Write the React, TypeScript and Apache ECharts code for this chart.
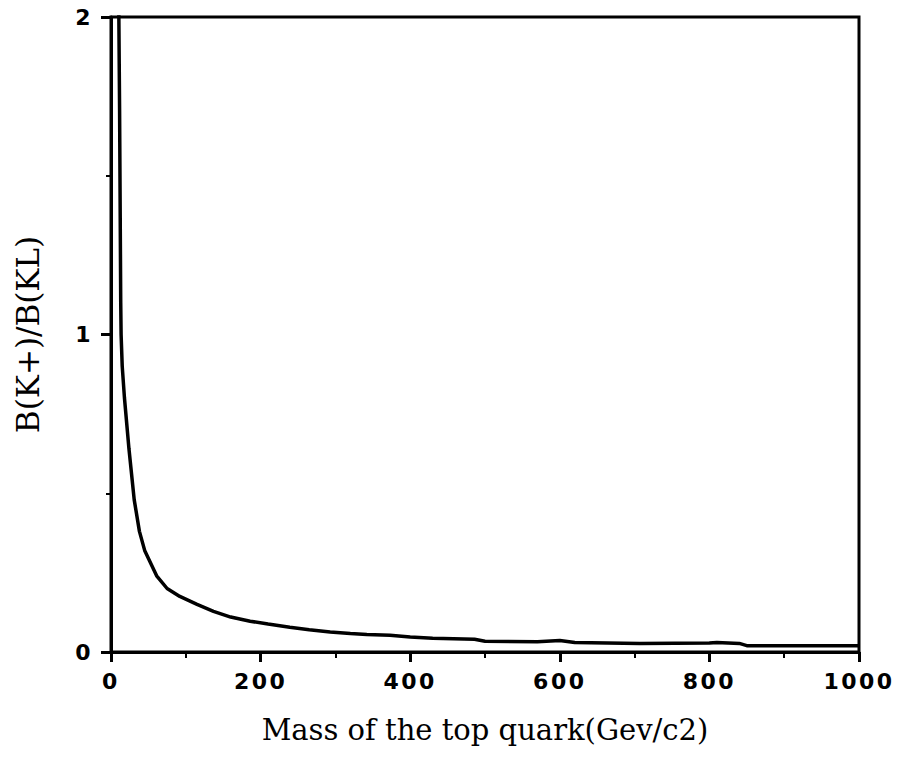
import React, { useEffect, useRef } from "react";
import * as echarts from "echarts";

const massGeV = [10, 10.5, 11.5, 13, 13.5, 15, 18, 24, 31, 38, 45, 61, 75, 92, 115, 137, 160, 186, 210, 239, 265, 293, 320, 342, 373, 400, 430, 486, 500, 570, 600, 620, 707, 800, 810, 840, 850, 1000];
const ratio = [2.3, 2.0, 1.7, 1.1, 1.0, 0.9, 0.8, 0.64, 0.48, 0.38, 0.32, 0.24, 0.2, 0.175, 0.15, 0.128, 0.11, 0.097, 0.088, 0.078, 0.07, 0.063, 0.058, 0.055, 0.053, 0.047, 0.043, 0.04, 0.034, 0.032, 0.036, 0.03, 0.027, 0.028, 0.03, 0.027, 0.02, 0.02];

const xTitle = "Mass of the top quark(Gev/c2)";
const yTitle = "B(K+)/B(KL)";

export default function App() {
  const ref = useRef<HTMLDivElement>(null);
  useEffect(() => {
    if (!ref.current) return;
    const chart = echarts.init(ref.current, null, { renderer: "svg" });
    const tickFont = {
      color: "#000",
      fontFamily: "DejaVu Sans, Arial, sans-serif",
      fontWeight: "bold" as const,
      fontSize: 22,
      formatter: (v: number) => String(v),
    };
    chart.setOption({
      animation: false,
      backgroundColor: "#fff",
      grid: {
        left: 111,
        right: 39,
        top: 17,
        bottom: 111,
        show: true,
        borderColor: "#000",
        borderWidth: 3,
      },
      xAxis: {
        type: "value",
        min: 0,
        max: 1000,
        interval: 200,
        name: xTitle,
        nameLocation: "middle",
        nameGap: 63,
        nameTextStyle: {
          color: "#000",
          fontFamily: "DejaVu Serif, serif",
          fontSize: 29,
        },
        axisLine: { show: true, onZero: false, lineStyle: { color: "#000", width: 3 } },
        axisTick: { show: true, length: 10, lineStyle: { color: "#000", width: 3 } },
        minorTick: { show: true, splitNumber: 2, length: 6, lineStyle: { color: "#000", width: 2 } },
        splitLine: { show: false },
        axisLabel: { ...tickFont, margin: 18 },
      },
      yAxis: {
        type: "value",
        min: 0,
        max: 2,
        interval: 1,
        name: yTitle,
        nameLocation: "middle",
        nameGap: 68,
        nameTextStyle: {
          color: "#000",
          fontFamily: "DejaVu Serif, serif",
          fontSize: 31,
        },
        axisLine: { show: true, onZero: false, lineStyle: { color: "#000", width: 3 } },
        axisTick: { show: true, length: 10, lineStyle: { color: "#000", width: 3 } },
        minorTick: { show: true, splitNumber: 2, length: 5, lineStyle: { color: "#000", width: 2 } },
        splitLine: { show: false },
        axisLabel: { ...tickFont, margin: 18 },
      },
      series: [
        {
          type: "line",
          data: massGeV.map((m, i) => [m, ratio[i]]),
          showSymbol: false,
          clip: true,
          lineStyle: { color: "#000", width: 3.5 },
        },
      ],
    });
    return () => chart.dispose();
  }, []);
  return (
    <>
      <style>{`body{margin:0} #chart svg text[style*="bold"]{letter-spacing:2.5px}`}</style>
      <div id="chart" ref={ref} style={{ width: 898, height: 763 }} />
    </>
  );
}
